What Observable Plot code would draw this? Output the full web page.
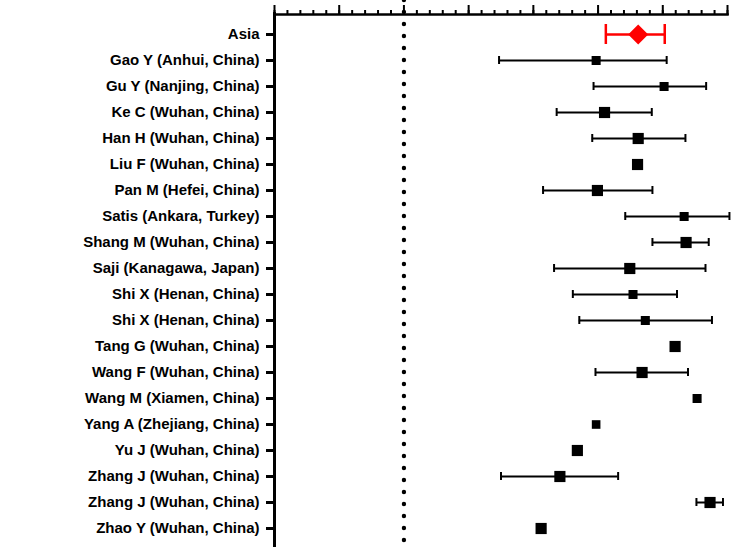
<!DOCTYPE html>
<html>
<head>
<meta charset="utf-8">
<script src="https://cdn.jsdelivr.net/npm/d3@7"></script>
<script src="https://cdn.jsdelivr.net/npm/@observablehq/plot@0.6"></script>
<style>
  html, body { margin: 0; padding: 0; background: #fff; }
  #chart { width: 733px; height: 547px; }
</style>
</head>
<body>
<div id="chart"></div>
<script>
const studies = [
  "Asia",
  "Gao Y (Anhui, China)",
  "Gu Y (Nanjing, China)",
  "Ke C (Wuhan, China)",
  "Han H (Wuhan, China)",
  "Liu F (Wuhan, China)",
  "Pan M (Hefei, China)",
  "Satis (Ankara, Turkey)",
  "Shang M (Wuhan, China)",
  "Saji (Kanagawa, Japan)",
  "Shi X (Henan, China)",
  "Shi X (Henan, China)",
  "Tang G (Wuhan, China)",
  "Wang F (Wuhan, China)",
  "Wang M (Xiamen, China)",
  "Yang A (Zhejiang, China)",
  "Yu J (Wuhan, China)",
  "Zhang J (Wuhan, China)",
  "Zhang J (Wuhan, China)",
  "Zhao Y (Wuhan, China)"
];
const estimate = [3.62, 2.97, 4.02, 3.10, 3.62, 3.61, 2.99, 4.33, 4.36, 3.49, 3.54, 3.73, 4.19, 3.68, 4.53, 2.97, 2.68, 2.41, 4.73, 2.12];
const lower    = [3.12, 1.47, 2.93, 2.36, 2.91, null, 2.15, 3.42, 3.84, 2.32, 2.61, 2.71, null, 2.96, null, null, null, 1.50, 4.52, null];
const upper    = [4.03, 4.06, 4.67, 3.83, 4.35, null, 3.84, 5.03, 4.71, 4.66, 4.22, 4.76, null, 4.39, null, null, null, 3.31, 4.93, null];
const weight   = [null, 1, 1, 2, 2, 2, 2, 1, 2, 2, 1, 1, 2, 2, 1, 0.8, 2, 2, 2, 2];
const xMajorTicks = [-2, -1, 0, 1, 2, 3, 4, 5];
const xMinorTicks = d3.range(-2, 5.001, 0.2).map(v => Math.round(v * 10) / 10);
const referenceValue = [0];

const rows = studies.map((name, i) => ({
  i, name, est: estimate[i], lo: lower[i], hi: upper[i], w: weight[i]
}));
const pooled = rows.filter(d => d.i === 0);
const single = rows.filter(d => d.i > 0);
const withCI = single.filter(d => d.lo != null);

const chart = Plot.plot({
  width: 733,
  height: 547,
  marginTop: 14,
  marginBottom: 0,
  marginLeft: 274,
  marginRight: 6,
  style: { fontFamily: "'Liberation Sans', Arial, Helvetica, sans-serif", background: "#fff", color: "#000" },
  x: { domain: [-2, 5] },
  y: { type: "band", domain: d3.range(studies.length), padding: 0, insetTop: 4.5, insetBottom: 3.5 },
  r: { type: "linear", domain: [1, 2], range: [5.1, 6.3] },
  marks: [
    Plot.ruleX(referenceValue, { stroke: "#000", strokeWidth: 4.4, strokeDasharray: "0,12", strokeLinecap: "round", insetTop: -14 }),
    Plot.axisX({ anchor: "top", ticks: xMinorTicks, tickSize: 5, tickFormat: () => "", label: null, strokeWidth: 2 }),
    Plot.axisX({ anchor: "top", ticks: xMajorTicks, tickSize: 10, tickFormat: () => "", label: null, strokeWidth: 2 }),
    Plot.frame({ anchor: "top", strokeWidth: 2.5 }),
    Plot.ruleX([-2], { stroke: "#000", strokeWidth: 3, insetTop: -2 }),
    Plot.axisY({ anchor: "left", tickSize: 8, tickPadding: 7, strokeWidth: 3, label: null,
      tickFormat: i => studies[i], fontSize: 15, fontWeight: "bold" }),
    // study error bars
    Plot.ruleY(withCI, { y: "i", x1: "lo", x2: "hi", stroke: "#000", strokeWidth: 2 }),
    Plot.tickX(withCI, { y: "i", x: "lo", stroke: "#000", strokeWidth: 2, insetTop: 9, insetBottom: 9 }),
    Plot.tickX(withCI, { y: "i", x: "hi", stroke: "#000", strokeWidth: 2, insetTop: 9, insetBottom: 9 }),
    Plot.dot(single, { y: "i", x: "est", r: "w", symbol: "square", fill: "#000", stroke: null }),
    // pooled estimate
    Plot.ruleY(pooled, { y: "i", x1: "lo", x2: "hi", stroke: "#ff0000", strokeWidth: 2.5 }),
    Plot.tickX(pooled, { y: "i", x: "lo", stroke: "#ff0000", strokeWidth: 2.5, insetTop: 3, insetBottom: 3 }),
    Plot.tickX(pooled, { y: "i", x: "hi", stroke: "#ff0000", strokeWidth: 2.5, insetTop: 3, insetBottom: 3 }),
    Plot.dot(pooled, { y: "i", x: "est", r: 9, symbol: "diamond2", fill: "#ff0000", stroke: null })
  ]
});
document.getElementById("chart").appendChild(chart);
</script>
</body>
</html>
